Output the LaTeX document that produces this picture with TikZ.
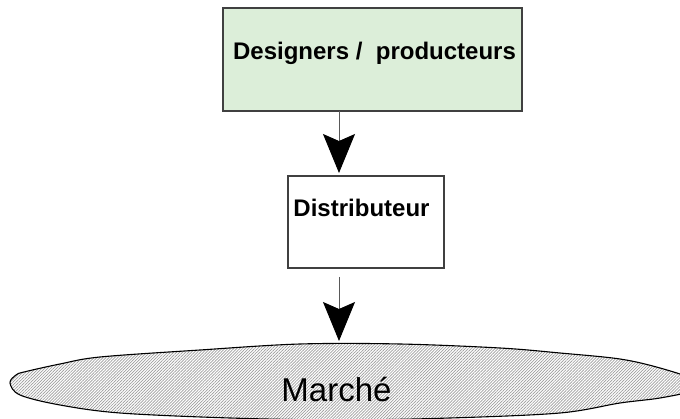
\documentclass[tikz,border=0pt]{standalone}
\usepackage{fontspec}
\setmainfont{Liberation Sans}
\usetikzlibrary{positioning,calc,arrows.meta,patterns.meta}
\definecolor{prodgreen}{RGB}{220,238,217}

\begin{document}
\begin{tikzpicture}[
  x=1pt, y=-1pt,
  every node/.style={inner sep=0pt, outer sep=0pt},
  stage/.style={draw=black!75, line width=1.4pt},
  stage-text/.style={font=\bfseries\fontsize{24}{28}\selectfont, anchor=base},
  flow/.style={draw=black!65, line width=0.9pt,
    -{Stealth[length=39pt, width=32pt, inset=7pt, color=black]}},
  market/.style={draw=black, line width=1.1pt, preaction={fill=white},
    pattern={Lines[angle=45, distance=2.1pt, line width=0.7pt]},
    pattern color=black!38},
  ]

  \useasboundingbox (0,0) rectangle (680,419);
  \clip (0,0) rectangle (680,419);

  % the market, running off the right edge
  \path [market] plot [smooth cycle, tension=0.55] coordinates {
    (10,383) (16,375) (24,372) (60,364) (100,357) (200,350) (300,344) (400,344)
    (500,348) (560,353) (620,359) (660,368) (695,380)
    (695,390) (660,398) (620,403) (560,413) (450,418) (340,420)
    (230,418) (120,413) (60,405) (20,395)};
  \node [font=\fontsize{33}{36}\selectfont, anchor=base] (market-text) at (336.5,402) {Marché};
  \coordinate (market-top) at (339,343);

  \node [stage, fill=prodgreen, minimum width=299pt, minimum height=103pt] (prod-box) at (372.5,59.5) {};
  \node [stage-text] (prod-text) at (374.5,59.3) {Designers / \ producteurs};

  \node [stage, fill=white, minimum width=156pt, minimum height=92pt] (dist-box) at (366,222) {};
  \node [stage-text] (dist-text) at (361.5,217) {Distributeur};

  \coordinate (flow-axis) at (339,0);
  \draw [flow, shorten >=3pt] (prod-box.south -| flow-axis) -- (dist-box.north -| flow-axis);
  \draw [flow, shorten <=9pt, shorten >=2pt] (dist-box.south -| flow-axis) -- (market-top);

\end{tikzpicture}
\end{document}
